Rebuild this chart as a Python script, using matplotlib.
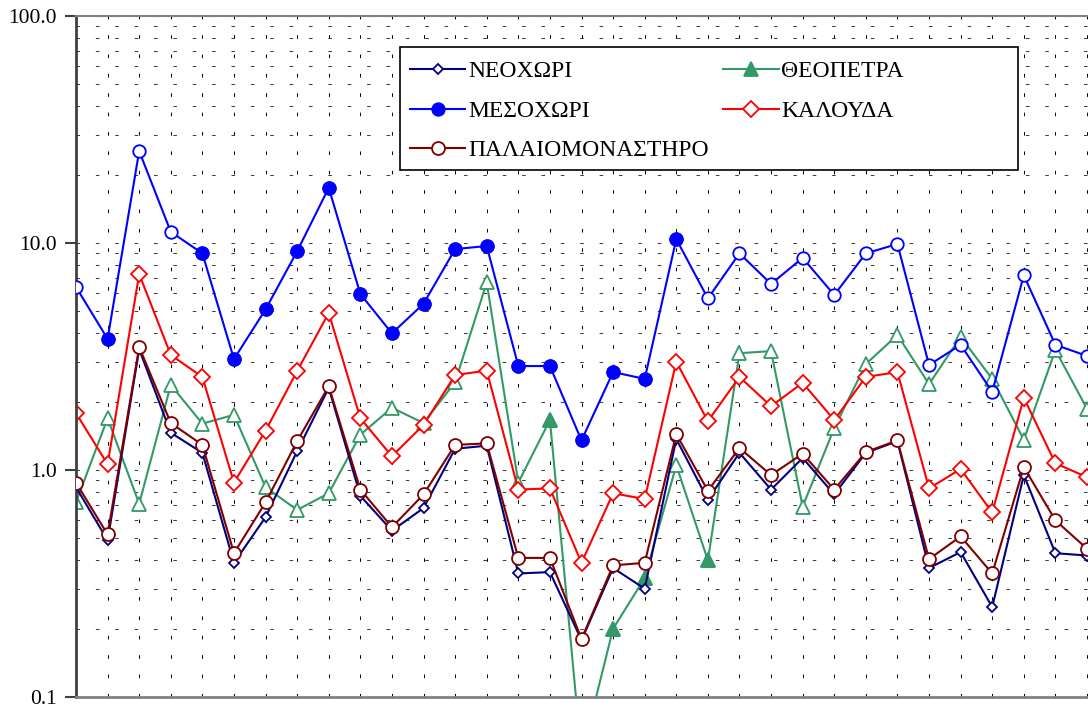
import matplotlib
matplotlib.use('Agg')
import matplotlib.pyplot as plt
from matplotlib.lines import Line2D
from matplotlib.patches import Rectangle
from matplotlib.ticker import LogLocator, FuncFormatter, NullFormatter

plt.rcParams['font.family'] = ['Liberation Serif', 'DejaVu Serif']

# sample number along the x axis (labels are cut off in the original)
samples = list(range(1, 34))

neochori = [0.84, 0.49, 3.4, 1.46, 1.19, 0.39, 0.62, 1.21, 2.3, 0.77, 0.54, 0.68, 1.24,
            1.28, 0.35, 0.355, 0.178, 0.37, 0.30, 1.37, 0.74, 1.19, 0.82, 1.13, 0.78,
            1.19, 1.34, 0.37, 0.435, 0.249, 0.95, 0.43, 0.42]
mesochori = [6.4, 3.78, 25.4, 11.2, 9.0, 3.08, 5.1, 9.2, 17.5, 5.96, 4.0, 5.4, 9.4, 9.7,
             2.87, 2.87, 1.35, 2.70, 2.52, 10.4, 5.7, 9.0, 6.6, 8.6, 5.9, 9.0, 9.9, 2.90,
             3.56, 2.21, 7.2, 3.56, 3.18]
palaiomonastiro = [0.88, 0.52, 3.48, 1.61, 1.29, 0.43, 0.72, 1.34, 2.34, 0.82, 0.56, 0.78,
                   1.29, 1.31, 0.41, 0.41, 0.18, 0.38, 0.39, 1.44, 0.81, 1.25, 0.95, 1.18,
                   0.82, 1.2, 1.35, 0.405, 0.51, 0.35, 1.03, 0.60, 0.45]
theopetra = [0.72, 1.69, 0.71, 2.37, 1.60, 1.75, 0.84, 0.667, 0.79, 1.43, 1.88, 1.61, 2.44,
             6.7, 0.88, 1.66, 0.055, 0.20, 0.334, 1.05, 0.40, 3.27, 3.34, 0.69, 1.53, 2.93,
             3.93, 2.39, 3.86, 2.52, 1.36, 3.38, 1.86]
kalouda = [1.78, 1.06, 7.3, 3.21, 2.57, 0.88, 1.49, 2.73, 4.92, 1.69, 1.15, 1.58, 2.62, 2.74,
           0.82, 0.83, 0.39, 0.79, 0.745, 3.0, 1.64, 2.57, 1.91, 2.42, 1.66, 2.57, 2.70, 0.83,
           1.01, 0.65, 2.08, 1.07, 0.93]

# points drawn with a solid marker in the original
mesochori_solid = [1, 4, 5, 6, 7, 8, 9, 10, 11, 12, 13, 14, 15, 16, 17, 18, 19]
theopetra_solid = [15, 16, 17, 18, 20]

ytick_values = [0.1, 1.0, 10.0, 100.0]

# label, values, colour, marker, size, solid points, zorder, solid in legend
series = [
    ('ΘΕΟΠΕΤΡΑ', theopetra, '#339966', '^', 10, theopetra_solid, 2.0, True),
    ('ΚΑΛΟΥΔΑ', kalouda, '#ff0000', 'D', 7.8, [], 2.2, False),
    ('ΝΕΟΧΩΡΙ', neochori, '#000080', 'D', 5.2, [], 2.4, False),
    ('ΠΑΛΑΙΟΜΟΝΑΣΤΗΡΟ', palaiomonastiro, '#800000', 'o', 9.3, [], 2.6, False),
    ('ΜΕΣΟΧΩΡΙ', mesochori, '#0000ff', 'o', 9, mesochori_solid, 2.8, True),
]

fig = plt.figure(figsize=(10.88, 7.09), dpi=100)
ax = fig.add_axes([76 / 1088, 12 / 709, 1012 / 1088, 681 / 709])

handles = {}
for label, vals, color, marker, ms, solid, z, leg_solid in series:
    ax.plot(samples, vals, color=color, lw=1.5, marker=marker, ms=ms, mfc='white',
            mec=color, mew=1.3, zorder=z)
    if solid:
        ax.plot([samples[i] for i in solid], [vals[i] for i in solid], ls='none',
                marker=marker, ms=ms, mfc=color, mec=color, mew=1.3, zorder=z + 0.05)
    handles[label] = Line2D([], [], color=color, lw=1.5, marker=marker, ms=ms,
                            mfc=color if leg_solid else 'white', mec=color, mew=1.3)

ax.set_yscale('log')
ax.set_ylim(0.1, 100)
ax.set_xlim(samples[0], samples[0] + 32 * 1012 / 1011)

ax.set_yticks(ytick_values)
ax.yaxis.set_major_formatter(FuncFormatter(lambda v, p: f'{v:.1f}'))
ax.yaxis.set_minor_locator(LogLocator(base=10, subs=range(2, 10)))
ax.yaxis.set_minor_formatter(NullFormatter())
ax.tick_params(axis='y', which='major', direction='out', length=8, width=1.5,
               color='#404040', labelsize=15.5, pad=6)
ax.tick_params(axis='y', which='minor', length=0)
ax.set_xticks(samples)
ax.tick_params(axis='x', length=0, labelbottom=False)

dash = (0, (3.4, 15.2))
ax.grid(axis='x', which='major', color='black', ls=dash, lw=0.75)
ax.grid(axis='y', which='both', color='#404040', ls=dash, lw=0.75)
ax.set_axisbelow(True)

ax.spines['left'].set_color('#404040')
ax.spines['left'].set_linewidth(2)
ax.spines['bottom'].set_color('#808080')
ax.spines['bottom'].set_linewidth(2)
ax.spines['top'].set_color('#808080')
ax.spines['top'].set_linewidth(1.5)
ax.spines['right'].set_visible(False)

# legend box
ax.add_patch(Rectangle((0.3202, 0.7739), 0.6106, 0.1806, transform=ax.transAxes,
                       facecolor='white', edgecolor='black', lw=1.2, zorder=4,
                       clip_on=False))
order = ['ΝΕΟΧΩΡΙ', 'ΜΕΣΟΧΩΡΙ', 'ΠΑΛΑΙΟΜΟΝΑΣΤΗΡΟ', 'ΘΕΟΠΕΤΡΑ', 'ΚΑΛΟΥΔΑ']
leg = ax.legend([handles[k] for k in order], order, ncol=2, loc='upper left',
                bbox_to_anchor=(0.330, 0.934), frameon=False, borderpad=0,
                borderaxespad=0, handlelength=2.35, handletextpad=0.12,
                columnspacing=0.6, labelspacing=0.76, fontsize=17)
leg.set_zorder(5)

fig.savefig('out.png', dpi=100)
